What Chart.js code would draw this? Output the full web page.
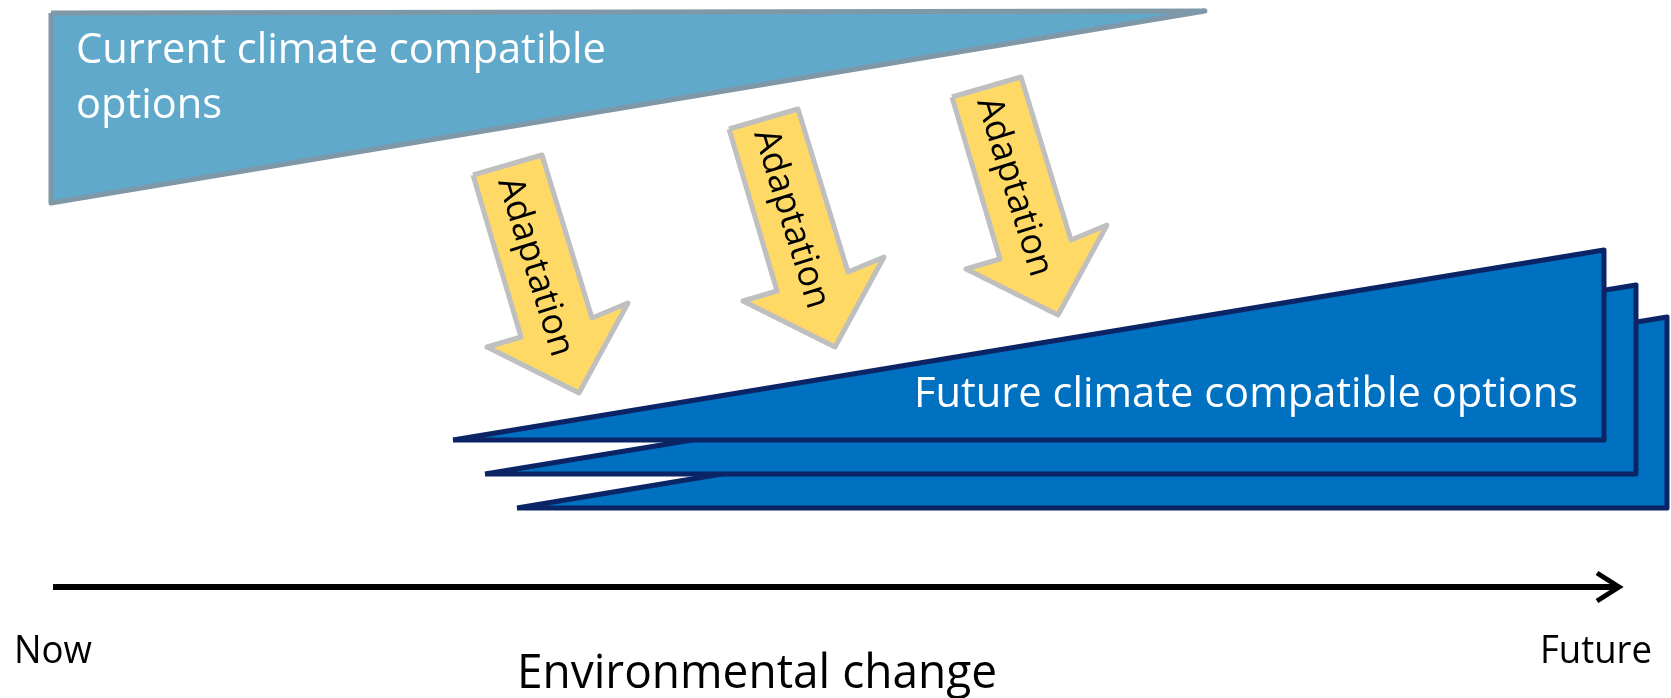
<!DOCTYPE html>
<html>
<head>
<meta charset="utf-8">
<script src="https://cdn.jsdelivr.net/npm/chart.js@4.4.1/dist/chart.umd.min.js"></script>
<style>
  html, body { margin: 0; padding: 0; background: #ffffff; }
  #wrap { width: 1671px; height: 698px; position: relative; }
</style>
</head>
<body>
<div id="wrap"><canvas id="adaptChart"></canvas></div>
<script>
// Diagram shapes (x = environmental change axis, y = option level, both in diagram units)
var currentOptions = [[51, 13], [1205, 11], [51, 203]];

var futureOptions1 = [[453, 440], [1604, 250], [1604, 440]];
var futureOptions2 = [[485, 474], [1636, 285], [1636, 474]];
var futureOptions3 = [[517, 508], [1667, 317], [1667, 508]];

var adaptArrow1 = [[473, 175], [542, 155], [592, 318], [628, 303], [579, 393], [487, 347], [521, 337]];
var adaptArrow2 = [[729, 129], [798, 109], [848, 272], [884, 257], [835, 347], [743, 301], [777, 291]];
var adaptArrow3 = [[952, 97], [1021, 77], [1071, 240], [1107, 225], [1058, 315], [966, 269], [1000, 259]];

var timeAxis = [[53, 587], [1615, 587]];
var timeAxisHead = [[1597, 573], [1619, 587], [1597, 601]];

// Text labels
var labels = [
    { text: 'Current climate compatible', x: 76, y: 63, size: 42, width: 530, color: '#ffffff' },
    { text: 'options', x: 76, y: 118, size: 42, width: 146, color: '#ffffff' },
    { text: 'Future climate compatible options', x: 914, y: 407, size: 42, width: 664, color: '#ffffff' },
    { text: 'Now', x: 14, y: 663, size: 38, width: 78, color: '#000000' },
    { text: 'Future', x: 1540, y: 663, size: 38, width: 112, color: '#000000' },
    { text: 'Environmental change', x: 517, y: 688, size: 48, width: 480, color: '#000000' }
];
var arrowLabels = [
    { text: 'Adaptation', x: 535, y: 267 },
    { text: 'Adaptation', x: 791, y: 219 },
    { text: 'Adaptation', x: 1014, y: 187 }
];

function toPoints(arr, close) {
    var pts = arr.map(function (p) { return { x: p[0], y: p[1] }; });
    if (close) pts.push({ x: arr[0][0], y: arr[0][1] });
    return pts;
}

function shape(arr, fillColor, lineColor, width, order) {
    return {
        data: toPoints(arr, true),
        showLine: true,
        fill: 'shape',
        backgroundColor: fillColor,
        borderColor: lineColor,
        borderWidth: width,
        borderJoinStyle: 'round',
        pointRadius: 0,
        tension: 0,
        clip: false,
        order: order,
    };
}

var textPlugin = {
    id: 'diagramText',
    afterDatasetsDraw: function (chart) {
        var ctx = chart.ctx;
        var xs = chart.scales.x;
        var ys = chart.scales.y;
        ctx.save();
        ctx.textBaseline = 'alphabetic';
        ctx.textAlign = 'left';
        labels.forEach(function (l) {
            ctx.font = l.size + 'px "Open Sans"';
            ctx.fillStyle = l.color;
            ctx.fillText(l.text, xs.getPixelForValue(l.x), ys.getPixelForValue(l.y), l.width);
        });
        // rotated labels along the adaptation arrows
        ctx.font = '36px "Open Sans"';
        ctx.fillStyle = '#000000';
        ctx.textAlign = 'center';
        ctx.textBaseline = 'middle';
        var angle = Math.atan2(162, 50);
        arrowLabels.forEach(function (l) {
            ctx.save();
            ctx.translate(xs.getPixelForValue(l.x), ys.getPixelForValue(l.y));
            ctx.rotate(angle);
            ctx.fillText(l.text, 0, 0, 190);
            ctx.restore();
        });
        ctx.restore();
    }
};

var ctx = document.getElementById('adaptChart').getContext('2d');
var adaptChart = new Chart(ctx, {
    type: 'scatter',
    data: {
        datasets: [
            shape(currentOptions, '#60a9cb', '#7f98a8', 5, 10),
            shape(futureOptions3, '#0070c0', '#0b2466', 5, 9),
            shape(futureOptions2, '#0070c0', '#0b2466', 5, 8),
            shape(futureOptions1, '#0070c0', '#0b2466', 5, 7),
            shape(adaptArrow1, '#ffd966', '#bfbfbf', 5, 6),
            shape(adaptArrow2, '#ffd966', '#bfbfbf', 5, 5),
            shape(adaptArrow3, '#ffd966', '#bfbfbf', 5, 4),
            {
                data: toPoints(timeAxis, false),
                showLine: true,
                borderColor: '#000000',
                borderWidth: 6,
                pointRadius: 0,
                clip: false,
                order: 3,
            },
            {
                data: toPoints(timeAxisHead, false),
                showLine: true,
                borderColor: '#000000',
                borderWidth: 5,
                borderJoinStyle: 'miter',
                pointRadius: 0,
                clip: false,
                order: 2,
            },
        ],
    },
    options: {
        responsive: true,
        maintainAspectRatio: false,
        animation: false,
        layout: { padding: 0 },
        scales: {
            x: { type: 'linear', min: 0, max: 1671, display: false },
            y: { type: 'linear', min: 0, max: 698, reverse: true, display: false },
        },
        plugins: {
            legend: { display: false },
            tooltip: { enabled: false },
        }
    },
    plugins: [textPlugin]
});
</script>
</body>
</html>
